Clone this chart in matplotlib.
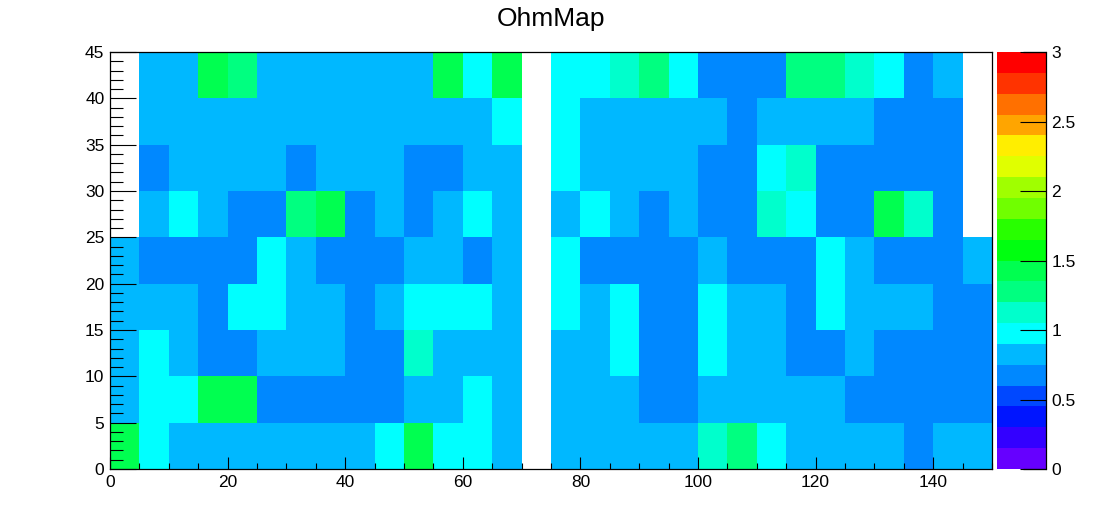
import numpy as np
import matplotlib
matplotlib.use('Agg')
import matplotlib.pyplot as plt
from matplotlib.colors import ListedColormap, BoundaryNorm
from matplotlib.ticker import MultipleLocator

plt.rcParams['font.family'] = ['Liberation Sans', 'DejaVu Sans']

nan = np.nan

# one list per y bin, bottom row first, 30 x bins of width 5
row_00 = [1.42, .98, .82, .82, .82, .82, .82, .82, .82, .98, 1.42, .98, .98, .82, nan, .82, .82, .82, .82, .82, 1.12, 1.28, .98, .82, .82, .82, .82, .68, .82, .82]
row_05 = [.82, .98, .98, 1.42, 1.42, .68, .68, .68, .68, .68, .82, .82, .98, .82, nan, .82, .82, .82, .68, .68, .82, .82, .82, .82, .82, .68, .68, .68, .68, .68]
row_10 = [.82, .98, .82, .68, .68, .82, .82, .82, .68, .68, 1.12, .82, .82, .82, nan, .82, .82, .98, .68, .68, .98, .82, .82, .68, .68, .82, .68, .68, .68, .68]
row_15 = [.82, .82, .82, .68, .98, .98, .82, .82, .68, .82, .98, .98, .98, .82, nan, .98, .82, .98, .68, .68, .98, .82, .82, .68, .98, .82, .82, .82, .68, .68]
row_20 = [.82, .68, .68, .68, .68, .98, .82, .68, .68, .68, .82, .82, .68, .82, nan, .98, .68, .68, .68, .68, .82, .68, .68, .68, .98, .82, .68, .68, .68, .82]
row_25 = [nan, .82, .98, .82, .68, .68, 1.28, 1.42, .68, .82, .68, .82, .98, .82, nan, .82, .98, .82, .68, .82, .68, .68, 1.12, .98, .68, .68, 1.42, 1.12, .68, nan]
row_30 = [nan, .68, .82, .82, .82, .82, .68, .82, .82, .82, .68, .68, .82, .82, nan, .98, .82, .82, .82, .82, .68, .68, .98, 1.12, .68, .68, .68, .68, .68, nan]
row_35 = [nan, .82, .82, .82, .82, .82, .82, .82, .82, .82, .82, .82, .82, .98, nan, .98, .82, .82, .82, .82, .82, .68, .82, .82, .82, .82, .68, .68, .68, nan]
row_40 = [nan, .82, .82, 1.42, 1.28, .82, .82, .82, .82, .82, .82, 1.42, .98, 1.42, nan, .98, .98, 1.12, 1.28, .98, .68, .68, .68, 1.28, 1.28, 1.12, .98, .68, .82, nan]

x_edges = np.arange(0, 155, 5)
y_edges = np.arange(0, 50, 5)

levels = np.linspace(0, 3, 21)
colors = ['#6600ff', '#3300ff', '#0015ff', '#0048ff', '#0088ff', '#00b8ff', '#00ffff',
          '#00ffcc', '#00ff80', '#00ff50', '#00ff10', '#28ff00', '#70ff00', '#a0ff00',
          '#e0ff00', '#ffee00', '#ffa500', '#ff7000', '#ff3300', '#ff0000']
cbar_ticks = [0, 0.5, 1, 1.5, 2, 2.5, 3]
cbar_labels = ['0', '0.5', '1', '1.5', '2', '2.5', '3']

z = np.array([row_00, row_05, row_10, row_15, row_20, row_25, row_30, row_35, row_40])

W, H = 1102, 522
fig = plt.figure(figsize=(W / 100, H / 100), dpi=100)
ax = fig.add_axes([110 / W, 1 - 469 / H, 882 / W, 417 / H])
cax = fig.add_axes([997 / W, 1 - 469 / H, 49 / W, 417 / H])

cmap = ListedColormap(colors)
cmap.set_bad('white')
norm = BoundaryNorm(levels, cmap.N)
mesh = ax.pcolormesh(x_edges, y_edges, np.ma.masked_invalid(z), cmap=cmap, norm=norm, linewidth=0, rasterized=True)

ax.set_xlim(0, 150)
ax.set_ylim(0, 45)
ax.xaxis.set_major_locator(MultipleLocator(20))
ax.xaxis.set_minor_locator(MultipleLocator(5))
ax.yaxis.set_major_locator(MultipleLocator(5))
ax.yaxis.set_minor_locator(MultipleLocator(1))
ax.tick_params(axis='x', which='major', direction='in', length=9, width=0.8, labelsize=12.5, pad=4)
ax.tick_params(axis='x', which='minor', direction='in', length=4.5, width=0.8)
ax.tick_params(axis='y', which='major', direction='in', length=19, width=0.8, labelsize=12.5, pad=4)
ax.tick_params(axis='y', which='minor', direction='in', length=9.5, width=0.8)
ax.set_axisbelow(False)
for s in ax.spines.values():
    s.set_linewidth(0.9)

cb = fig.colorbar(mesh, cax=cax, spacing='proportional', drawedges=False)
cb.outline.set_visible(False)
cax.spines['right'].set_visible(True)
cax.spines['right'].set_linewidth(0.9)
cb.set_ticks(cbar_ticks, labels=cbar_labels)
cb.minorticks_off()
cax.tick_params(axis='y', which='major', direction='in', right=True, length=19, width=0.8, labelsize=12.5, pad=4)
# end ticks of the palette get lost on the axes edge
cax.hlines([cbar_ticks[0], cbar_ticks[-1]], 0.53, 1, color='k', lw=0.9, clip_on=False, zorder=5)

fig.text(551 / W, 1 - 19 / H, 'OhmMap', ha='center', va='center', fontsize=19)

fig.savefig('out.png', dpi=100, facecolor='white')
